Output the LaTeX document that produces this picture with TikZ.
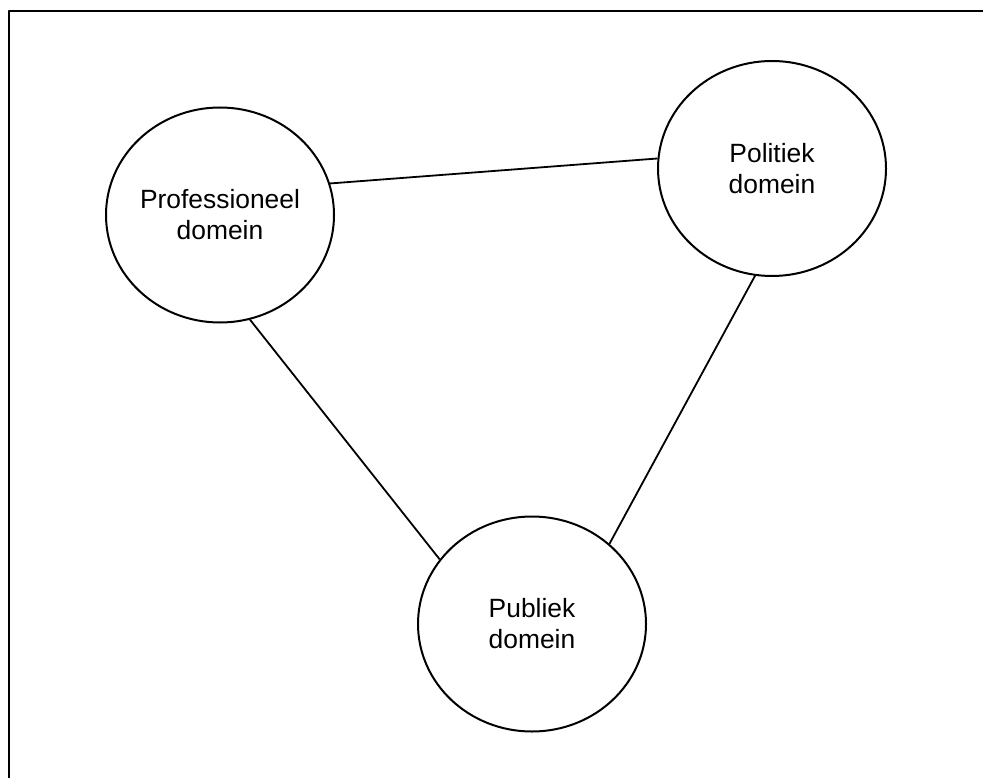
\documentclass[tikz,border=0pt]{standalone}
\usepackage{fontspec}
\setmainfont{Liberation Sans}
\usepackage{tikz}
\usetikzlibrary{shapes.geometric}

\begin{document}
\begin{tikzpicture}[x=.5pt,y=.5pt,join=round,
        domein/.style={draw,ellipse,line width=1pt,inner sep=0pt,
                minimum width=114pt,minimum height=107.5pt,align=center,
                font=\fontsize{13.2}{15.5}\selectfont}]% drie domeinen
        \useasboundingbox (0,0) rectangle (983,778);
        \draw[line width=1pt] (983,767)--(9,767)--(9,0);
        \node[domein] (prof) at (220,563) {Professioneel\\domein};
        \node[domein] (pol) at (772,609.5) {Politiek\\domein};
        \node[domein] (pub) at (532,154) {Publiek\\domein};
        \draw[line width=.9pt]
                (prof.16)--(pol.175)
                (prof.-74)--(pub.145)
                (pol.-99)--(pub.46);
     \end{tikzpicture}
\end{document}
